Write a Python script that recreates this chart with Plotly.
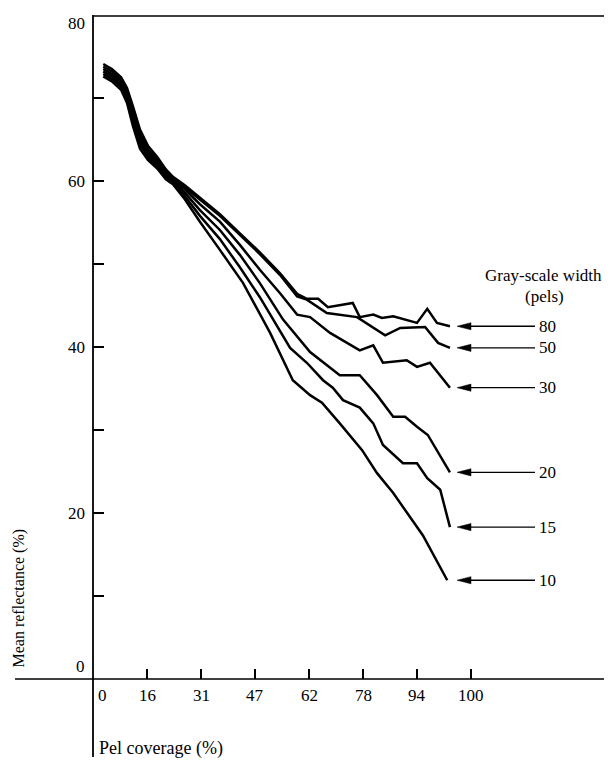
import plotly.graph_objects as go

# ---------------- data (x in tick-position units: k-th label sits at k) ----------------
x_tick_labels = ["0", "16", "31", "47", "62", "78", "94", "100"]
y_tick_labels = [0, 20, 40, 60, 80]
y_minor_ticks = [10, 20, 30, 40, 50, 60, 70]

series_names = ["80", "50", "30", "20", "15", "10"]

band_x = [0.19, 0.35, 0.52, 0.63, 0.74, 0.87, 1.02, 1.19, 1.35, 1.48]

x80 = band_x + [1.70, 1.98, 2.35, 2.72, 3.09, 3.46, 3.78, 3.96, 4.17, 4.35, 4.81, 4.94,
                5.19, 5.35, 5.56, 6.00, 6.19, 6.37, 6.61]
y80 = [74.1, 73.5, 72.5, 71.2, 69.0, 66.2, 64.2, 62.9, 61.4, 60.5,
       59.5, 58.0, 56.0, 53.7, 51.4, 48.9, 46.4, 45.8, 45.8, 44.8, 45.3, 43.6,
       43.9, 43.5, 43.7, 42.9, 44.6, 42.9, 42.5]

x50 = band_x + [1.70, 1.98, 2.35, 2.72, 3.09, 3.46, 3.78, 3.96, 4.33, 4.89, 5.41, 5.69,
                6.15, 6.39, 6.61]
y50 = [73.8, 73.2, 72.2, 70.8, 68.5, 65.8, 63.8, 62.6, 61.1, 60.4,
       59.3, 57.7, 55.8, 53.5, 51.2, 48.7, 46.1, 45.7, 44.1, 43.6, 41.4, 42.3,
       42.4, 40.5, 39.9]

x30 = band_x + [1.70, 1.98, 2.35, 2.72, 3.09, 3.46, 3.78, 4.02, 4.39, 4.94, 5.19, 5.37,
                5.81, 6.00, 6.24, 6.61]
y30 = [73.5, 72.9, 71.9, 70.5, 68.0, 65.3, 63.5, 62.3, 61.0, 60.2,
       59.0, 57.2, 55.1, 52.3, 49.3, 46.5, 43.9, 43.6, 41.7, 39.6, 40.2, 38.1,
       38.4, 37.6, 38.1, 35.1]

x20 = band_x + [1.70, 1.98, 2.35, 2.72, 3.09, 3.52, 4.02, 4.57, 4.94, 5.26, 5.56, 5.78,
                6.00, 6.20, 6.61]
y20 = [73.2, 72.6, 71.6, 70.1, 67.5, 64.8, 63.2, 62.0, 60.7, 60.0,
       58.6, 56.5, 54.1, 51.1, 47.7, 43.3, 39.4, 36.6, 36.6, 34.2, 31.6, 31.6,
       30.4, 29.4, 24.9]

x15 = band_x + [1.70, 1.98, 2.35, 2.72, 3.09, 3.65, 3.96, 4.26, 4.44, 4.63, 4.94, 5.19,
                5.37, 5.74, 6.00, 6.19, 6.43, 6.61]
y15 = [72.9, 72.3, 71.3, 69.8, 67.0, 64.4, 62.9, 61.7, 60.5, 59.9,
       58.2, 55.8, 53.0, 49.6, 46.0, 39.9, 38.1, 36.0, 35.1, 33.6, 32.7, 30.8,
       28.2, 26.0, 26.0, 24.2, 22.8, 18.3]

x10 = band_x + [1.70, 1.98, 2.35, 2.78, 3.28, 3.70, 4.02, 4.24, 4.57, 4.98, 5.26, 5.56,
                6.11, 6.56]
y10 = [72.6, 72.0, 71.0, 69.4, 66.6, 63.9, 62.5, 61.5, 60.2, 59.6,
       57.8, 55.1, 51.7, 47.7, 41.7, 36.0, 34.2, 33.3, 30.8, 27.6, 24.8, 22.4,
       17.3, 11.9]

xs = [x80, x50, x30, x20, x15, x10]
ys = [y80, y50, y30, y20, y15, y10]

# ---------------- style / geometry ----------------
FONT = "Liberation Serif"
OFF = 8                          # page body margin of the browser
W, H = 612 - OFF, 762 - OFF
ML, MR, MT, MB = 93 - OFF, 0, 15 - OFF, H - (679 - OFF)
PLOT_W = W - ML - MR
PLOT_H = H - MT - MB
PX_X = 54.0                      # pixels per tick position
X_MAX = PLOT_W / PX_X
PX_Y = PLOT_H / 80.0


def pxr(px):
    """paper x for a window pixel column"""
    return (px - OFF - ML) / PLOT_W


def pyr(py):
    """paper y for a window pixel row"""
    return (H - MB - (py - OFF)) / PLOT_H


def dx(px):
    return (px - OFF - ML) / PX_X


def dy(py):
    return (H - MB - (py - OFF)) / PX_Y


fig = go.Figure()
for name, xv, yv in zip(series_names, xs, ys):
    fig.add_trace(go.Scatter(x=xv, y=yv, mode="lines", name=name,
                             line=dict(color="black", width=2.5),
                             showlegend=False, hoverinfo="skip"))

shapes = []
ann = []
# axis lines
shapes.append(dict(type="line", xref="paper", yref="paper", x0=0, x1=0,
                   y0=pyr(757), y1=1.0, line=dict(color="black", width=1.8)))
shapes.append(dict(type="line", xref="paper", yref="paper",
                   x0=pxr(15), x1=1.0, y0=0, y1=0,
                   line=dict(color="black", width=1.6)))
shapes.append(dict(type="line", xref="paper", yref="paper", x0=0, x1=1.0,
                   y0=pyr(16), y1=pyr(16), line=dict(color="black", width=1.4)))

# arrows pointing at each curve end
head_x = dx(457)
tail_x = dx(535)
label_x = dx(547)
head_len = 14 / PX_X
head_half = 3.6 / PX_Y
for name, yv in zip(series_names, ys):
    ya = yv[-1]
    shapes.append(dict(type="line", xref="x", yref="y", x0=head_x + head_len * 0.8,
                       x1=tail_x, y0=ya, y1=ya, line=dict(color="black", width=1.4)))
    path = "M {:.4f},{:.4f} L {:.4f},{:.4f} L {:.4f},{:.4f} Z".format(
        head_x, ya, head_x + head_len, ya + head_half, head_x + head_len, ya - head_half)
    shapes.append(dict(type="path", xref="x", yref="y", path=path,
                       fillcolor="black", line=dict(color="black", width=0.5)))
    ann.append(dict(x=label_x, y=ya, xref="x", yref="y", text=name, showarrow=False,
                    xanchor="center", yanchor="middle",
                    font=dict(family=FONT, size=17, color="black")))

# legend header
ann.append(dict(x=dx(543), y=dy(275), xref="x", yref="y",
                text="Gray-scale width", showarrow=False, xanchor="center",
                yanchor="middle", font=dict(family=FONT, size=17, color="black")))
ann.append(dict(x=dx(544), y=dy(296), xref="x", yref="y",
                text="(pels)", showarrow=False, xanchor="center",
                yanchor="middle", font=dict(family=FONT, size=17, color="black")))

# y tick labels
for v in y_tick_labels:
    shift = 0
    if v == 80:
        shift = -8
    elif v == 0:
        shift = 13
    ann.append(dict(x=0, y=v, xref="paper", yref="y", text=str(v), showarrow=False,
                    xanchor="right", yanchor="middle", xshift=-6, yshift=shift,
                    font=dict(family=FONT, size=17, color="black")))

# x tick labels
for i, lab in enumerate(x_tick_labels):
    ann.append(dict(x=i, y=pyr(695), xref="x", yref="paper", text=lab,
                    showarrow=False, xanchor="center", yanchor="middle",
                    xshift=9 if i == 0 else 0,
                    font=dict(family=FONT, size=17, color="black")))

# axis titles
ann.append(dict(x=pxr(97), y=pyr(748), xref="paper", yref="paper",
                text="Pel coverage (%)", showarrow=False, xanchor="left",
                yanchor="middle", font=dict(family=FONT, size=18, color="black")))
ann.append(dict(x=pxr(18), y=pyr(670), xref="paper", yref="paper",
                text="Mean reflectance (%)", showarrow=False,
                textangle=-90, xanchor="center", yanchor="bottom",
                font=dict(family=FONT, size=16, color="black")))

fig.update_layout(
    width=W, height=H,
    margin=dict(l=ML, r=MR, t=MT, b=MB, pad=0),
    paper_bgcolor="white", plot_bgcolor="white",
    shapes=shapes, annotations=ann,
    xaxis=dict(range=[0, X_MAX], showgrid=False, zeroline=False, showline=False,
               ticks="inside", tickvals=list(range(1, len(x_tick_labels))),
               ticklen=10, tickwidth=1.5, tickcolor="black", showticklabels=False,
               fixedrange=True),
    yaxis=dict(range=[0, 80], showgrid=False, zeroline=False, showline=False,
               ticks="inside", tickvals=y_minor_ticks, ticklen=11, tickwidth=1.5,
               tickcolor="black", showticklabels=False, fixedrange=True),
)

fig.write_html("out.html")
